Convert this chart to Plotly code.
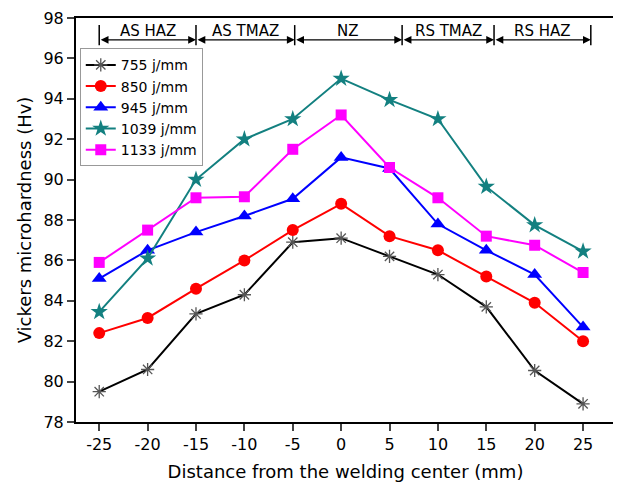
import plotly.graph_objects as go

x = [-25, -20, -15, -10, -5, 0, 5, 10, 15, 20, 25]
x_ticktext = ["-25", "-20", "-15", "-10", "-5", "0", "5", "10", "15", "20", "25"]
s755 = [79.5, 80.6, 83.35, 84.3, 86.9, 87.1, 86.2, 85.3, 83.7, 80.55, 78.9]
s850 = [82.4, 83.15, 84.6, 86.0, 87.5, 88.8, 87.2, 86.5, 85.2, 83.9, 82.0]
s945 = [85.1, 86.5, 87.4, 88.2, 89.05, 91.1, 90.55, 87.8, 86.5, 85.3, 82.7]
s1039 = [83.45, 86.1, 90.0, 92.0, 93.0, 95.0, 93.95, 93.0, 89.65, 87.75, 86.45]
s1133 = [85.9, 87.5, 89.1, 89.15, 91.5, 93.2, 90.6, 89.1, 87.2, 86.75, 85.4]

zone_labels = ["AS HAZ", "AS TMAZ", "NZ", "RS TMAZ", "RS HAZ"]
zone_edges = [-25, -15, -4.8, 6.3, 15.8, 25.8]

series = [
    ("755 j/mm", s755, "black", dict(symbol="asterisk-open", size=11, color="#555555", line=dict(color="#555555", width=1.3))),
    ("850 j/mm", s850, "#ff0000", dict(symbol="circle", size=12, color="#ff0000")),
    ("945 j/mm", s945, "#0000ff", dict(symbol="triangle-up", size=13, color="#0000ff")),
    ("1039 j/mm", s1039, "#138080", dict(symbol="star", size=13, color="#138080")),
    ("1133 j/mm", s1133, "#ff00ff", dict(symbol="square", size=11, color="#ff00ff")),
]

fig = go.Figure()
for name, ys, col, mk in series:
    fig.add_trace(go.Scatter(x=x, y=ys, name=name, mode="lines+markers",
                             line=dict(color=col, width=2), marker=mk))

shapes = []
for e in zone_edges:
    shapes.append(dict(type="line", xref="x", yref="y", x0=e, x1=e, y0=96.65, y1=97.65,
                       line=dict(color="black", width=1.5)))
annotations = []
for i, lab in enumerate(zone_labels):
    a, b = zone_edges[i], zone_edges[i + 1]
    annotations.append(dict(x=b, y=96.92, ax=a, ay=96.92, xref="x", yref="y", axref="x", ayref="y",
                            text="", showarrow=True, arrowhead=2, arrowside="end+start",
                            arrowsize=1.2, arrowwidth=1.3, arrowcolor="black", standoff=0, startstandoff=0))
    annotations.append(dict(x=(a + b) / 2, y=97.38, xref="x", yref="y", text=lab, showarrow=False,
                            font=dict(size=15, color="black")))

fig.update_layout(
    width=621, height=492,
    margin=dict(l=68, r=14, t=10, b=78),
    paper_bgcolor="white", plot_bgcolor="white",
    font=dict(family="DejaVu Sans", size=15, color="black"),
    shapes=shapes, annotations=annotations,
    legend=dict(x=0.007, y=0.925, xanchor="left", yanchor="top",
                bordercolor="#999999", borderwidth=1, bgcolor="white",
                font=dict(size=14), tracegroupgap=0, itemsizing="trace"),
    xaxis=dict(range=[-27.4, 28.3], tickvals=x, ticktext=x_ticktext, ticks="outside", ticklen=7, tickwidth=1.5,
               showline=True, linecolor="black", linewidth=2, mirror=True, showgrid=False, zeroline=False,
               automargin=False, tickfont=dict(size=16),
               title=dict(text="Distance from the welding center (mm)", font=dict(size=18), standoff=12)),
    yaxis=dict(range=[78, 98], dtick=2, ticks="outside", ticklen=7, tickwidth=1.5,
               showline=True, linecolor="black", linewidth=2, mirror=True, showgrid=False, zeroline=False,
               automargin=False, tickfont=dict(size=16),
               title=dict(text="Vickers microhardness (Hv)", font=dict(size=18), standoff=7)),
)

fig.write_html("out.html")
